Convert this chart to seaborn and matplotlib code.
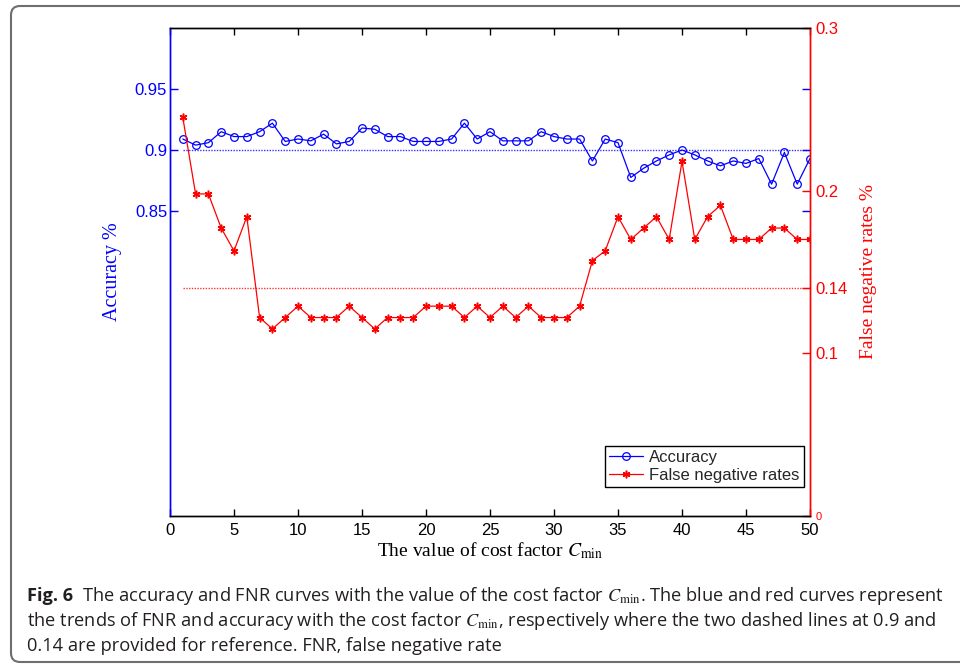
import matplotlib
matplotlib.use("Agg")
import numpy as np
import pandas as pd
import seaborn as sns
import matplotlib.pyplot as plt
from matplotlib.lines import Line2D
from matplotlib.patches import FancyBboxPatch
from matplotlib.transforms import IdentityTransform
from matplotlib import font_manager

# ---------------- data ----------------
cost_factor = list(range(1, 51))
accuracy = [0.909, 0.904, 0.906, 0.915, 0.911, 0.911, 0.915, 0.922, 0.907, 0.909,
            0.9075, 0.913, 0.905, 0.907, 0.918, 0.917, 0.911, 0.911, 0.907, 0.907,
            0.907, 0.909, 0.922, 0.909, 0.915, 0.9075, 0.9075, 0.9075, 0.915, 0.911,
            0.909, 0.909, 0.891, 0.909, 0.906, 0.8775, 0.885, 0.891, 0.896, 0.900,
            0.896, 0.891, 0.887, 0.891, 0.889, 0.893, 0.872, 0.898, 0.872, 0.893]
fnr = [0.245, 0.198, 0.198, 0.177, 0.163, 0.184, 0.122, 0.115, 0.122, 0.129,
       0.122, 0.122, 0.122, 0.129, 0.122, 0.115, 0.122, 0.122, 0.122, 0.129,
       0.129, 0.129, 0.122, 0.129, 0.122, 0.129, 0.122, 0.129, 0.122, 0.122,
       0.122, 0.129, 0.157, 0.163, 0.184, 0.170, 0.177, 0.184, 0.170, 0.218,
       0.170, 0.184, 0.191, 0.170, 0.170, 0.170, 0.177, 0.177, 0.170, 0.170]
acc_ref = 0.9
fnr_ref = 0.14
x_ticks = list(range(0, 51, 5))
acc_ticks = [0.85, 0.9, 0.95]
acc_tick_labels = ["0.85", "0.9", "0.95"]
fnr_ticks = [0, 0.1, 0.14, 0.2, 0.3]
fnr_tick_labels = ["0", "0.1", "0.14", "0.2", "0.3"]
legend_labels = ["Accuracy", "False negative rates"]
caption_lines = [
    ("Fig. 6", "  The accuracy and FNR curves with the value of the cost factor $C_{\\mathrm{min}}$. The blue and red curves represent"),
    (None, "the trends of FNR and accuracy with the cost factor $C_{\\mathrm{min}}$, respectively where the two dashed lines at 0.9 and"),
    (None, "0.14 are provided for reference. FNR, false negative rate"),
]

# ---------------- style ----------------
sns.set_theme(style="white")
plt.rcParams["font.family"] = ["Liberation Sans", "DejaVu Sans"]
plt.rcParams["mathtext.fontset"] = "stix"

W, H = 960, 668
fig = plt.figure(figsize=(W / 100, H / 100), dpi=100)
fig.patch.set_facecolor("white")

ax = fig.add_axes([170 / W, 1 - 516 / H, 640 / W, 488 / H])
ax2 = ax.twinx()

df = pd.DataFrame({"C": cost_factor, "acc": accuracy, "fnr": fnr})

sns.lineplot(data=df, x="C", y="acc", ax=ax, color="blue", marker="o",
             markersize=5.5, markerfacecolor="none", markeredgecolor="blue",
             markeredgewidth=0.9, linewidth=0.9)
ax.hlines(acc_ref, cost_factor[0], cost_factor[-1], colors="blue",
          linestyles=(0, (1, 1)), linewidth=1.0, alpha=0.8)

sns.lineplot(data=df, x="C", y="fnr", ax=ax2, color="red", marker=(6, 2, 0),
             markersize=5.5, markeredgecolor="red", markerfacecolor="red",
             markeredgewidth=1.1, linewidth=0.9)
ax2.hlines(fnr_ref, cost_factor[0], cost_factor[-1], colors="red",
           linestyles=(0, (1, 1)), linewidth=1.0, alpha=0.8)

ax.set_xlim(0, 50)
ax.set_ylim(0.6, 1.0)
ax2.set_ylim(0, 0.3)

ax.set_xticks(x_ticks)
ax.set_xticklabels([str(t) for t in x_ticks])
ax.set_yticks(acc_ticks)
ax.set_yticklabels(acc_tick_labels)
ax2.set_yticks(fnr_ticks)
ax2.set_yticklabels(fnr_tick_labels)

ax.tick_params(axis="x", direction="in", length=5, width=1, colors="black",
               top=True, bottom=True, labelsize=12, pad=5)
ax.tick_params(axis="y", direction="in", length=6, width=1, colors="blue",
               left=True, right=True, labelsize=12, pad=2)
ax2.tick_params(axis="y", direction="in", length=6, width=1, colors="red",
                left=False, right=True, labelsize=12, pad=4)
ax2.get_yticklabels()[0].set_fontsize(8)
for lab in ax.get_xticklabels():
    lab.set_color("black")

for a in (ax, ax2):
    for s in a.spines.values():
        s.set_linewidth(1.0)
    a.spines["top"].set_color("black")
    a.spines["bottom"].set_color("black")
    a.spines["left"].set_color("blue")
    a.spines["right"].set_color("red")
    a.grid(False)

ax.set_xlabel("The value of cost factor $C_{\\mathrm{min}}$", family=["Liberation Serif"],
              fontsize=14, color="black")
ax.xaxis.set_label_coords(0.5, -0.05)
ax.set_ylabel("Accuracy %", family=["Liberation Serif"], fontsize=14.5, color="blue")
ax.yaxis.set_label_coords(-0.075, 0.5)
ax2.set_ylabel("False negative rates %", family=["Liberation Serif"], fontsize=14, color="red",
               rotation=90)
ax2.yaxis.set_label_coords(1.078, 0.5)

handles = [
    Line2D([], [], color="blue", marker="o", markersize=5.5, markerfacecolor="none",
           markeredgecolor="blue", markeredgewidth=0.9, linewidth=0.9),
    Line2D([], [], color="red", marker=(6, 2, 0), markersize=5.5, markeredgecolor="red",
           markeredgewidth=1.1, linewidth=0.9),
]
leg = ax2.legend(handles, legend_labels, loc="lower right", bbox_to_anchor=(0.9906, 0.059),
                 fontsize=12, frameon=True, fancybox=False, framealpha=1,
                 edgecolor="black", handlelength=2.0, borderpad=0.25,
                 labelspacing=0.2, handletextpad=0.4, borderaxespad=0)
leg.get_frame().set_linewidth(1.0)

# ---------------- outer border ----------------
border = FancyBboxPatch((11, H - 662), 1000, 656,
                        boxstyle="round,pad=0,rounding_size=9",
                        transform=IdentityTransform(), fill=False,
                        edgecolor="#6e6e6e", linewidth=1.5)
fig.add_artist(border)

# ---------------- caption ----------------
avail = {f.name for f in font_manager.fontManager.ttflist}
cap_fam = [f for f in ["Liberation Sans Narrow", "Open Sans", "DejaVu Sans"] if f in avail]
cap_color = "#231f20"
baselines = [601, 626, 651]
x_start = 27


def draw_caption(fs):
    renderer = fig.canvas.get_renderer()
    texts = []
    ends = []
    for (bold, rest), yb in zip(caption_lines, baselines):
        x = x_start
        if bold:
            t = fig.text(x / W, 1 - yb / H, bold, fontsize=fs, fontweight="bold",
                         family=cap_fam, color=cap_color, va="baseline", ha="left")
            texts.append(t)
            x = t.get_window_extent(renderer).x1
        t2 = fig.text(x / W, 1 - yb / H, rest, fontsize=fs, family=cap_fam,
                      color=cap_color, va="baseline", ha="left")
        texts.append(t2)
        ends.append(t2.get_window_extent(renderer).x1)
    return texts, ends


fs = 12.5
fig.canvas.draw()
texts, ends = draw_caption(fs)
fs_new = fs * (943 - x_start) / (ends[0] - x_start)
for t in texts:
    t.remove()
texts, ends = draw_caption(fs_new)

fig.savefig("out.png", dpi=100)
